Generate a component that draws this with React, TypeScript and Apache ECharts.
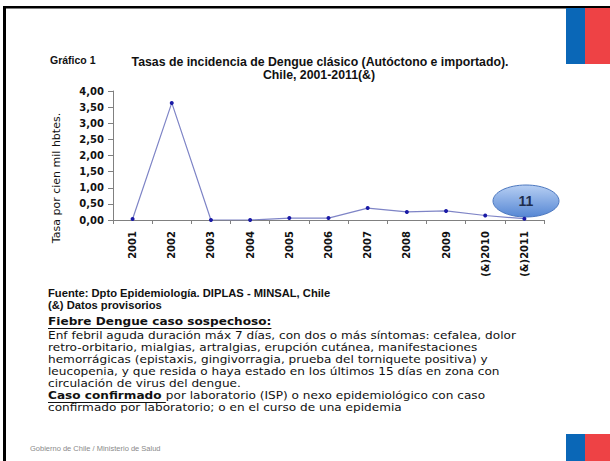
import React, { useEffect, useRef } from "react";
import * as echarts from "echarts";

const years = ["2001", "2002", "2003", "2004", "2005", "2006", "2007", "2008", "2009", "(&)2010", "(&)2011"];
const rates = [0.03, 3.63, 0.0, 0.0, 0.06, 0.06, 0.37, 0.25, 0.28, 0.14, 0.04];
const yTicks = { min: 0, max: 4, interval: 0.5 };

const titleLine1 = "Tasas de incidencia de Dengue clásico (Autóctono e importado).";
const titleLine2 = "Chile, 2001-2011(&)";
const yName = "Tasa por cien mil hbtes.";
const sourceLines = ["Fuente: Dpto Epidemiología. DIPLAS - MINSAL, Chile", "(&) Datos provisorios"];
const suspectHeading = "Fiebre Dengue caso sospechoso:";
const bodyLines = [
  "Enf febril aguda duración máx 7 días, con dos o más síntomas: cefalea, dolor",
  "retro-orbitario, mialgias, artralgias, erupción cutánea, manifestaciones",
  "hemorrágicas (epistaxis, gingivorragia, prueba del torniquete positiva) y",
  "leucopenia, y que resida o haya estado en los últimos 15 días en zona con",
  "circulación de virus del dengue.",
];
const confirmedHeading = "Caso confirmado ";
const confirmedLines = [
  "por laboratorio (ISP) o nexo epidemiológico con caso",
  "confirmado por laboratorio; o en el curso de una epidemia",
];

function measure(text: string, font: string): number {
  const c = document.createElement("canvas").getContext("2d");
  if (!c) return text.length * 6;
  c.font = font;
  return c.measureText(text).width;
}

export default function App() {
  const ref = useRef<HTMLDivElement>(null);
  useEffect(() => {
    document.body.style.margin = "0";
    const chart = echarts.init(ref.current!, undefined, { renderer: "svg" });
    const body = "DejaVu Sans";
    const chartFont = "Liberation Sans";
    const bodyFont = `10.3px "${body}"`;
    const bodyBold = `bold 10.3px "${body}"`;
    const sx = 468 / measure(bodyLines[0], bodyFont);
    const headW = measure(suspectHeading, bodyBold) * sx;
    const confW = measure(confirmedHeading, bodyBold) * sx;
    const bodyText = (text: string, x: number, y: number, font: string) => ({
      type: "text", x, y, scaleX: sx, style: { text, font, fill: "#111", verticalAlign: "middle" },
    });
    const graphic: any[] = [
      { type: "rect", shape: { x: 3, y: 6, width: 607, height: 2.5 }, style: { fill: "#000" } },
      { type: "rect", shape: { x: 3, y: 6, width: 3, height: 455 }, style: { fill: "#000" } },
      { type: "rect", shape: { x: 566, y: 8, width: 19, height: 56 }, style: { fill: "#0a67b7" } },
      { type: "rect", shape: { x: 585, y: 8, width: 25, height: 56 }, style: { fill: "#ee4245" } },
      { type: "rect", shape: { x: 566, y: 434, width: 19, height: 27 }, style: { fill: "#0a67b7" } },
      { type: "rect", shape: { x: 585, y: 434, width: 25, height: 27 }, style: { fill: "#ee4245" } },
      { type: "text", x: 50, y: 60, style: { text: "Gráfico 1", font: `bold 10.5px "${chartFont}"`, fill: "#111", verticalAlign: "middle" } },
      { type: "text", x: 320, y: 62, style: { text: titleLine1, font: `bold 12.3px "${chartFont}"`, fill: "#111", align: "center", verticalAlign: "middle" } },
      { type: "text", x: 319, y: 75, style: { text: titleLine2, font: `bold 12.3px "${chartFont}"`, fill: "#111", align: "center", verticalAlign: "middle" } },
      {
        type: "text", x: 56, y: 178, rotation: Math.PI / 2,
        style: { text: yName, font: `11px "${body}"`, fill: "#111", align: "center", verticalAlign: "middle" },
      },
      { type: "text", x: 48, y: 293, style: { text: sourceLines[0], font: `bold 11.2px "${chartFont}"`, fill: "#111", verticalAlign: "middle" } },
      { type: "text", x: 48, y: 305, style: { text: sourceLines[1], font: `bold 11.2px "${chartFont}"`, fill: "#111", verticalAlign: "middle" } },
      bodyText(suspectHeading, 48, 322, bodyBold),
      { type: "line", shape: { x1: 48, y1: 328.5, x2: 48 + headW, y2: 328.5 }, style: { stroke: "#111", lineWidth: 1 } },
      ...bodyLines.map((t, i) => bodyText(t, 48, 336 + i * 12, bodyFont)),
      bodyText(confirmedHeading, 48, 396, bodyBold),
      { type: "line", shape: { x1: 48, y1: 402.5, x2: 48 + confW, y2: 402.5 }, style: { stroke: "#111", lineWidth: 1 } },
      bodyText(confirmedLines[0], 48 + confW, 396, bodyFont),
      bodyText(confirmedLines[1], 48, 408, bodyFont),
      { type: "text", x: 30, y: 448, style: { text: "Gobierno de Chile / Ministerio de Salud", font: `7.5px "${chartFont}"`, fill: "#8a8a8a", verticalAlign: "middle" } },
      {
        type: "ellipse", shape: { cx: 526, cy: 201, rx: 33, ry: 16 },
        style: {
          fill: new echarts.graphic.LinearGradient(0, 0, 0, 1, [
            { offset: 0, color: "#b7cff3" },
            { offset: 1, color: "#5687d4" },
          ]),
          stroke: "#4d78bf", lineWidth: 1,
        },
      },
      { type: "text", x: 526, y: 201, style: { text: "11", font: `bold 14px "${chartFont}"`, fill: "#1f2d4d", align: "center", verticalAlign: "middle" } },
    ];
    chart.setOption({
      animation: false,
      backgroundColor: "#fff",
      grid: { left: 113, top: 91, width: 431, height: 129 },
      xAxis: {
        type: "category",
        data: years,
        boundaryGap: true,
        axisLine: { lineStyle: { color: "#808080", width: 1 } },
        axisTick: { show: true, length: 4, alignWithLabel: false, lineStyle: { color: "#808080" } },
        axisLabel: { rotate: 90, margin: 11, color: "#111", fontFamily: body, fontWeight: "bold", fontSize: 10, interval: 0 },
      },
      yAxis: {
        type: "value",
        min: yTicks.min,
        max: yTicks.max,
        interval: yTicks.interval,
        axisLine: { show: true, lineStyle: { color: "#808080", width: 1 } },
        axisTick: { show: true, length: 5, lineStyle: { color: "#808080" } },
        splitLine: { show: false },
        axisLabel: {
          margin: 9, color: "#111", fontFamily: body, fontWeight: "bold", fontSize: 10,
          formatter: (v: number) => v.toFixed(2).replace(".", ","),
        },
      },
      series: [
        {
          type: "line",
          data: rates,
          symbol: "circle",
          symbolSize: 4,
          lineStyle: { color: "#7e84c6", width: 1.2 },
          itemStyle: { color: "#1a1aa6" },
          z: 2,
        },
      ],
      graphic,
    });
    return () => chart.dispose();
  }, []);
  return <div ref={ref} style={{ width: 610, height: 461 }} />;
}
